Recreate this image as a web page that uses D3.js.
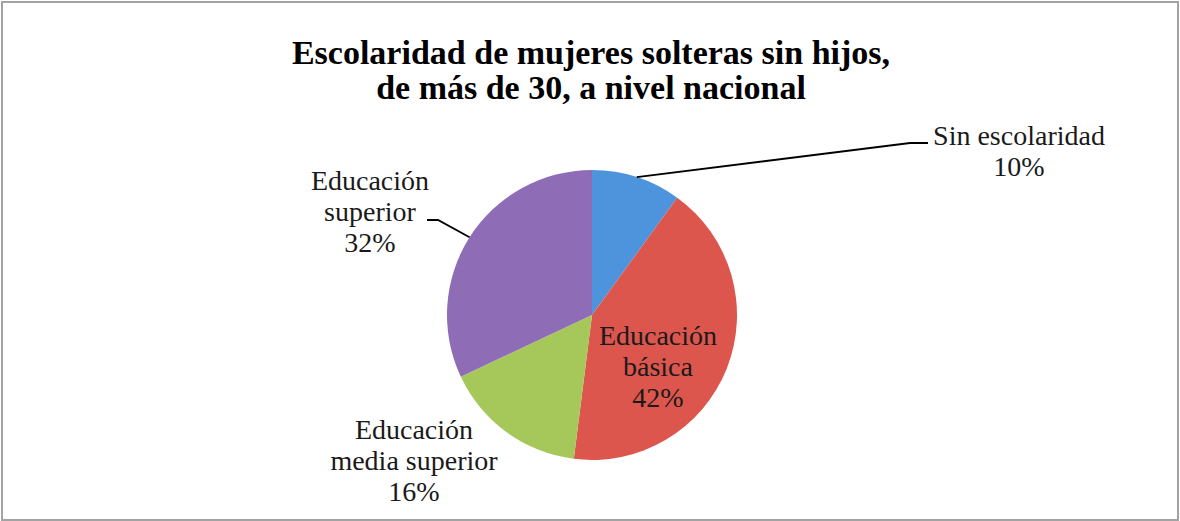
<!DOCTYPE html>
<html>
<head>
<meta charset="utf-8">
<script src="https://cdn.jsdelivr.net/npm/d3@7"></script>
<style>
  html, body { margin: 0; padding: 0; background: #fff; }
  svg { display: block; }
</style>
</head>
<body>
<svg id="chart" width="1180" height="521"></svg>
<script>
// Escolaridad de mujeres solteras sin hijos, de más de 30 (porcentajes)
const titleLines = ["Escolaridad de mujeres solteras sin hijos,", "de más de 30, a nivel nacional"];
const categories = ["Sin escolaridad", "Educación básica", "Educación media superior", "Educación superior"];
const labelLines = [["Sin escolaridad"], ["Educación", "básica"], ["Educación", "media superior"], ["Educación", "superior"]];
const values = [10, 42, 16, 32];
const colorsTop = ["#4e94dc", "#dc564d", "#a6c85a", "#8e6db6"];
const colorsBottom = ["#3e7fc5", "#c3413b", "#92b447", "#7a5aa0"];

const W = 1180, H = 521;
const cx = 592, cy = 315, R = 145;
const fontFamily = "'Liberation Serif', 'Times New Roman', serif";

const svg = d3.select("#chart");

// outer frame
svg.append("rect")
  .attr("x", 2).attr("y", 2)
  .attr("width", W - 4).attr("height", H - 3)
  .attr("fill", "#fff")
  .attr("stroke", "#a3a3a3")
  .attr("stroke-width", 2);

// title
svg.append("text")
  .attr("x", 591).attr("text-anchor", "middle")
  .attr("font-family", fontFamily).attr("font-weight", "bold")
  .attr("font-size", 34).attr("fill", "#000")
  .selectAll("tspan").data(titleLines).join("tspan")
  .attr("x", 591)
  .attr("y", (d, i) => 64 + i * 35)
  .text(d => d);

// slice gradients, lighter at the top
const defs = svg.append("defs");
categories.forEach((c, i) => {
  const g = defs.append("linearGradient")
    .attr("id", "grad" + i)
    .attr("gradientUnits", "userSpaceOnUse")
    .attr("x1", 0).attr("y1", cy - R)
    .attr("x2", 0).attr("y2", cy + R);
  g.append("stop").attr("offset", "0%").attr("stop-color", colorsTop[i]);
  g.append("stop").attr("offset", "100%").attr("stop-color", colorsBottom[i]);
});

const pie = d3.pie().sort(null).value(d => d.value);
const arcs = pie(categories.map((c, i) => ({ name: c, value: values[i], idx: i })));
const arc = d3.arc().innerRadius(0).outerRadius(R);

const g = svg.append("g").attr("transform", `translate(${cx},${cy})`);
g.selectAll("path.slice").data(arcs).join("path")
  .attr("class", "slice")
  .attr("d", arc)
  .attr("fill", d => `url(#grad${d.data.idx})`);

// label placement: anchor point (centre of text block, first baseline) and optional leader elbow
const labelLayout = [
  { x: 1019, y: 145, elbow: [910, 143], end: [928, 143] },
  { x: 658, y: 345 },
  { x: 414, y: 439 },
  { x: 370, y: 190, elbow: [438, 220], end: [427, 220] }
];
const lineGap = 31;

arcs.forEach((d, i) => {
  const L = labelLayout[i];
  const lines = labelLines[i].concat([values[i] + "%"]);
  if (L.elbow) {
    const mid = (d.startAngle + d.endAngle) / 2;
    const sx = cx + R * Math.sin(mid), sy = cy - R * Math.cos(mid);
    svg.append("polyline")
      .attr("points", [[sx, sy], L.elbow, L.end].map(p => p.join(",")).join(" "))
      .attr("fill", "none").attr("stroke", "#000").attr("stroke-width", 1.8);
  }
  svg.append("text")
    .attr("text-anchor", "middle")
    .attr("font-family", fontFamily).attr("font-size", 28)
    .attr("fill", "#1a1a1a")
    .selectAll("tspan").data(lines).join("tspan")
    .attr("x", L.x)
    .attr("y", (t, k) => L.y + k * lineGap)
    .text(t => t);
});
</script>
</body>
</html>
